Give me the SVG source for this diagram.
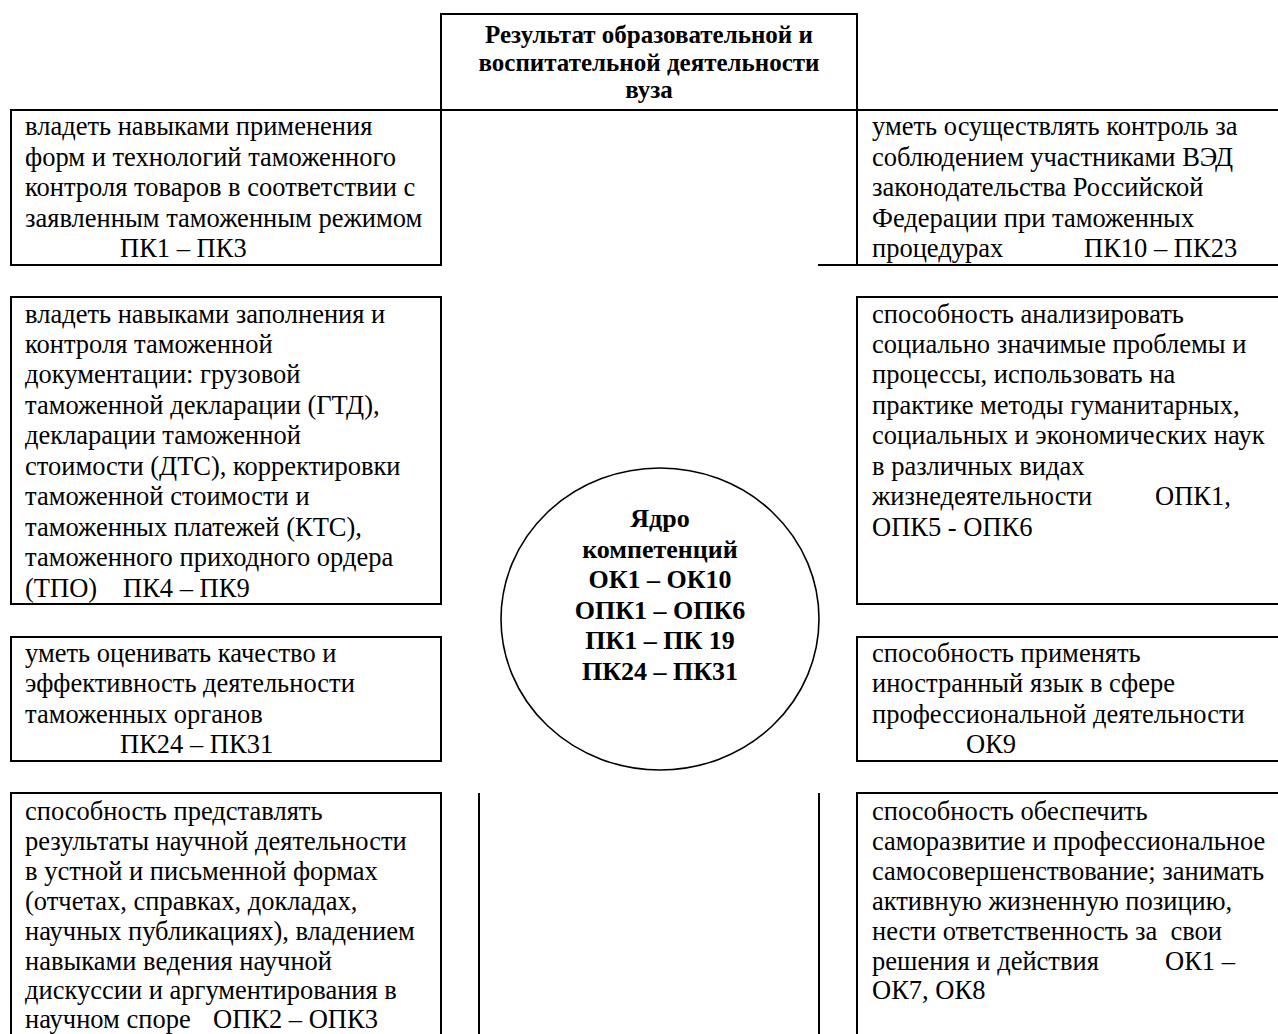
<svg xmlns="http://www.w3.org/2000/svg" width="1278" height="1034" viewBox="0 0 1278 1034">
<style>
.b{fill:none;stroke:#000;stroke-width:2}
.c{fill:none;stroke:#000;stroke-width:1.6}
.t{font-family:"Liberation Serif","Times New Roman",serif;font-size:26.5px;fill:#000}
.h{font-family:"Liberation Serif","Times New Roman",serif;font-size:25px;font-weight:bold;fill:#000;text-anchor:middle}
.k{font-family:"Liberation Serif","Times New Roman",serif;font-size:26px;font-weight:bold;fill:#000;text-anchor:middle}
</style>
<rect width="1278" height="1034" fill="#fff"/>
<g id="title">
<rect class="b" x="441" y="14" width="416" height="96"/>
<text class="h"><tspan x="649" y="43">Результат образовательной и</tspan><tspan x="649" y="70.5">воспитательной деятельности</tspan><tspan x="649" y="98">вуза</tspan></text>
</g>
<g id="left1">
<rect class="b" x="11" y="110" width="430" height="155"/>
<text class="t"><tspan x="25" y="135">владеть навыками применения</tspan><tspan x="25" y="165.5">форм и технологий таможенного</tspan><tspan x="25" y="196">контроля товаров в соответствии с</tspan><tspan x="25" y="226.5">заявленным таможенным режимом</tspan><tspan x="120" y="257">ПК1 – ПК3</tspan></text>
</g>
<g id="right1">
<path class="b" d="M1280,110 H857 V265 M818,265 H1280"/>
<text class="t"><tspan x="872" y="135">уметь осуществлять контроль за</tspan><tspan x="872" y="165.5">соблюдением участниками ВЭД</tspan><tspan x="872" y="196">законодательства Российской</tspan><tspan x="872" y="226.5">Федерации при таможенных</tspan><tspan x="872" y="257">процедурах</tspan><tspan x="1084" y="257">ПК10 – ПК23</tspan></text>
</g>
<g id="left2">
<rect class="b" x="11" y="297" width="430" height="307"/>
<text class="t"><tspan x="25" y="322.5">владеть навыками заполнения и</tspan><tspan x="25" y="353">контроля таможенной</tspan><tspan x="25" y="383.4">документации: грузовой</tspan><tspan x="25" y="413.9">таможенной декларации (ГТД),</tspan><tspan x="25" y="444.3">декларации таможенной</tspan><tspan x="25" y="474.8">стоимости (ДТС), корректировки</tspan><tspan x="25" y="505.2">таможенной стоимости и</tspan><tspan x="25" y="535.7">таможенных платежей (КТС),</tspan><tspan x="25" y="566.1">таможенного приходного ордера</tspan><tspan x="25" y="596.6">(ТПО)</tspan><tspan x="123" y="596.6">ПК4 – ПК9</tspan></text>
</g>
<g id="right2">
<path class="b" d="M1280,297 H857 V604 H1280"/>
<text class="t"><tspan x="872" y="322.5">способность анализировать</tspan><tspan x="872" y="353">социально значимые проблемы и</tspan><tspan x="872" y="383.4">процессы, использовать на</tspan><tspan x="872" y="413.9">практике методы гуманитарных,</tspan><tspan x="872" y="444.3">социальных и экономических наук</tspan><tspan x="872" y="474.8">в различных видах</tspan><tspan x="872" y="505.2">жизнедеятельности</tspan><tspan x="1155" y="505.2">ОПК1,</tspan><tspan x="872" y="535.7">ОПК5 - ОПК6</tspan></text>
</g>
<g id="core">
<ellipse class="c" cx="660" cy="619" rx="159" ry="151"/>
<text class="k"><tspan x="660" y="527">Ядро</tspan><tspan x="660" y="557.5">компетенций</tspan><tspan x="660" y="588">ОК1 – ОК10</tspan><tspan x="660" y="618.5">ОПК1 – ОПК6</tspan><tspan x="660" y="649">ПК1 – ПК 19</tspan><tspan x="660" y="679.5">ПК24 – ПК31</tspan></text>
</g>
<g id="left3">
<rect class="b" x="11" y="637" width="430" height="124"/>
<text class="t"><tspan x="25" y="662">уметь оценивать качество и</tspan><tspan x="25" y="692.4">эффективность деятельности</tspan><tspan x="25" y="722.8">таможенных органов</tspan><tspan x="120" y="753.2">ПК24 – ПК31</tspan></text>
</g>
<g id="right3">
<path class="b" d="M1280,637 H857 V761 H1280"/>
<text class="t"><tspan x="872" y="662">способность применять</tspan><tspan x="872" y="692.4">иностранный язык в сфере</tspan><tspan x="872" y="722.8">профессиональной деятельности</tspan><tspan x="966" y="753.2">ОК9</tspan></text>
</g>
<g id="left4">
<path class="b" d="M11,1040 V793 H441 V1040"/>
<text class="t"><tspan x="25" y="820">способность представлять</tspan><tspan x="25" y="850">результаты научной деятельности</tspan><tspan x="25" y="880">в устной и письменной формах</tspan><tspan x="25" y="910">(отчетах, справках, докладах,</tspan><tspan x="25" y="940">научных публикациях), владением</tspan><tspan x="25" y="969.5">навыками ведения научной</tspan><tspan x="25" y="999">дискуссии и аргументирования в</tspan><tspan x="25" y="1028">научном споре</tspan><tspan x="213" y="1028">ОПК2 – ОПК3</tspan></text>
</g>
<g id="right4">
<path class="b" d="M1280,793 H857 V1040"/>
<text class="t"><tspan x="872" y="820">способность обеспечить</tspan><tspan x="872" y="850">саморазвитие и профессиональное</tspan><tspan x="872" y="880">самосовершенствование; занимать</tspan><tspan x="872" y="910">активную жизненную позицию,</tspan><tspan x="872" y="940">нести ответственность за&#160; свои</tspan><tspan x="872" y="969.5">решения и действия</tspan><tspan x="1165" y="969.5">ОК1 –</tspan><tspan x="872" y="999">ОК7, ОК8</tspan></text>
</g>
<g id="connectors">
<path class="b" d="M479,793 V1040 M819,793 V1040"/>
</g>
</svg>
